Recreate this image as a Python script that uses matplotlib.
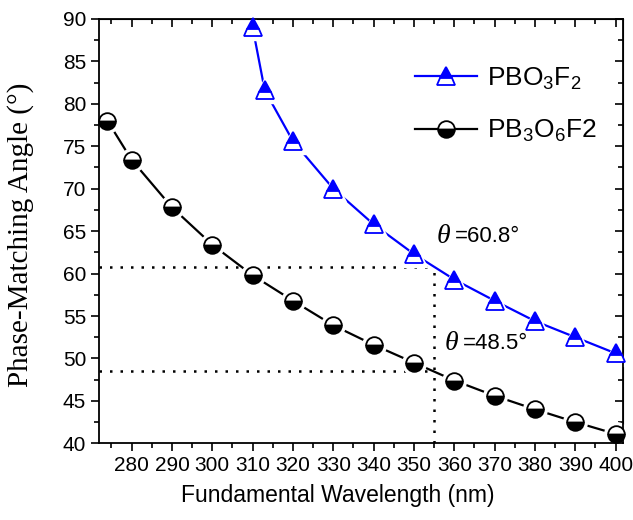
import matplotlib
matplotlib.use("Agg")
import matplotlib.pyplot as plt
from matplotlib.lines import Line2D
from matplotlib.ticker import MultipleLocator

plt.rcParams['font.family'] = ['Liberation Sans', 'DejaVu Sans']
plt.rcParams['mathtext.fontset'] = 'custom'
plt.rcParams['mathtext.rm'] = 'Liberation Sans'
plt.rcParams['mathtext.it'] = 'Liberation Sans:italic'

# data
wl_pbo3f2 = [310, 313, 320, 330, 340, 350, 360, 370, 380, 390, 400]
ang_pbo3f2 = [89.0, 81.6, 75.6, 70.0, 65.8, 62.3, 59.3, 56.8, 54.4, 52.5, 50.6]

wl_pb3o6f2 = [274, 280, 290, 300, 310, 320, 330, 340, 350, 360, 370, 380, 390, 400]
ang_pb3o6f2 = [78.0, 73.4, 67.8, 63.4, 59.8, 56.8, 53.9, 51.6, 49.5, 47.4, 45.6, 44.0, 42.5, 41.1]

cut_wl = 355
cut_ang = [60.8, 48.5]

fig = plt.figure(figsize=(6.33, 5.2), dpi=100)
ax = fig.add_axes([0.157, 0.1475, 0.827, 0.816])

tri = dict(color='#0000ff', marker='^', markersize=13.5, fillstyle='top',
           markerfacecolor='#0000ff', markerfacecoloralt='white',
           markeredgecolor='#0000ff', markeredgewidth=1.3)
circ = dict(color='black', marker='o', markersize=12, fillstyle='bottom',
            markerfacecolor='black', markerfacecoloralt='white',
            markeredgecolor='black', markeredgewidth=1.3)

# line, white halo (gap like origin), then markers
for x, y, st, ms in [(wl_pbo3f2, ang_pbo3f2, tri, 13.5), (wl_pb3o6f2, ang_pb3o6f2, circ, 12)]:
    ax.plot(x, y, color=st['color'], lw=1.6, zorder=2.2, clip_on=False)
    ax.plot(x, y, ls='none', marker=st['marker'], markersize=ms + 5, markerfacecolor='white',
            markeredgecolor='white', zorder=2.3, clip_on=False)
    ax.plot(x, y, ls='none', zorder=3, clip_on=False, **{k: v for k, v in st.items() if k != 'color'})

# phase-matching cut lines
dots = (0, (1, 3.2))
for a in cut_ang:
    ax.plot([272, cut_wl], [a, a], color='black', lw=1.8, linestyle=dots, zorder=2)
ax.plot([cut_wl, cut_wl], [40, cut_ang[0]], color='black', lw=1.8, linestyle=dots, zorder=2)

ax.text(355.6, 64.4, 'θ', fontfamily='Liberation Serif', fontstyle='italic', fontsize=20,
        va='center', ha='left')
ax.text(360.2, 64.4, '=60.8°', fontsize=16, va='center', ha='left')
ax.text(357.6, 51.8, 'θ', fontfamily='Liberation Serif', fontstyle='italic', fontsize=20,
        va='center', ha='left')
ax.text(362.2, 51.8, '=48.5°', fontsize=16, va='center', ha='left')

ax.set_xlim(272, 401.8)
ax.set_ylim(40, 90)
ax.xaxis.set_minor_locator(MultipleLocator(5))
ax.yaxis.set_major_locator(MultipleLocator(5))
ax.yaxis.set_minor_locator(MultipleLocator(2.5))
ax.set_xticks(range(280, 401, 10))

for s in ax.spines.values():
    s.set_linewidth(1.3)
    s.set_zorder(2.5)
ax.xaxis.set_zorder(2.5)
ax.yaxis.set_zorder(2.5)
ax.tick_params(which='both', direction='out', width=1.2, labelsize=15)
ax.tick_params(which='major', length=6)
ax.tick_params(which='minor', length=3.5)

# mirror ticks on top/right pointing inward
axt = ax.secondary_xaxis('top')
axt.xaxis.set_major_locator(MultipleLocator(10))
axt.xaxis.set_minor_locator(MultipleLocator(5))
axt.tick_params(which='both', direction='in', width=1.2, labeltop=False)
axt.tick_params(which='major', length=6)
axt.tick_params(which='minor', length=3.5)
axr = ax.secondary_yaxis('right')
axr.yaxis.set_major_locator(MultipleLocator(5))
axr.yaxis.set_minor_locator(MultipleLocator(2.5))
axr.tick_params(which='both', direction='in', width=1.2, labelright=False)
axr.tick_params(which='major', length=6)
axr.tick_params(which='minor', length=3.5)

ax.set_xlabel('Fundamental Wavelength (nm)', fontsize=16.5, va='center')
ax.xaxis.set_label_coords(0.455, -0.124)
ax.set_ylabel('Phase-Matching Angle (°)', fontfamily='Liberation Serif', fontsize=21, va='center')
ax.yaxis.set_label_coords(-0.151, 0.491)

handles = [Line2D([], [], lw=1.6, **tri), Line2D([], [], lw=1.6, **circ)]
labels = [r'PBO$_3$F$_2$', r'PB$_3$O$_6$F2']
ax.legend(handles, labels, loc='upper left', bbox_to_anchor=(0.557, 0.946), frameon=False,
          fontsize=19, handlelength=2.35, handletextpad=0.4, labelspacing=1.0)

fig.savefig('out.png', dpi=100)
